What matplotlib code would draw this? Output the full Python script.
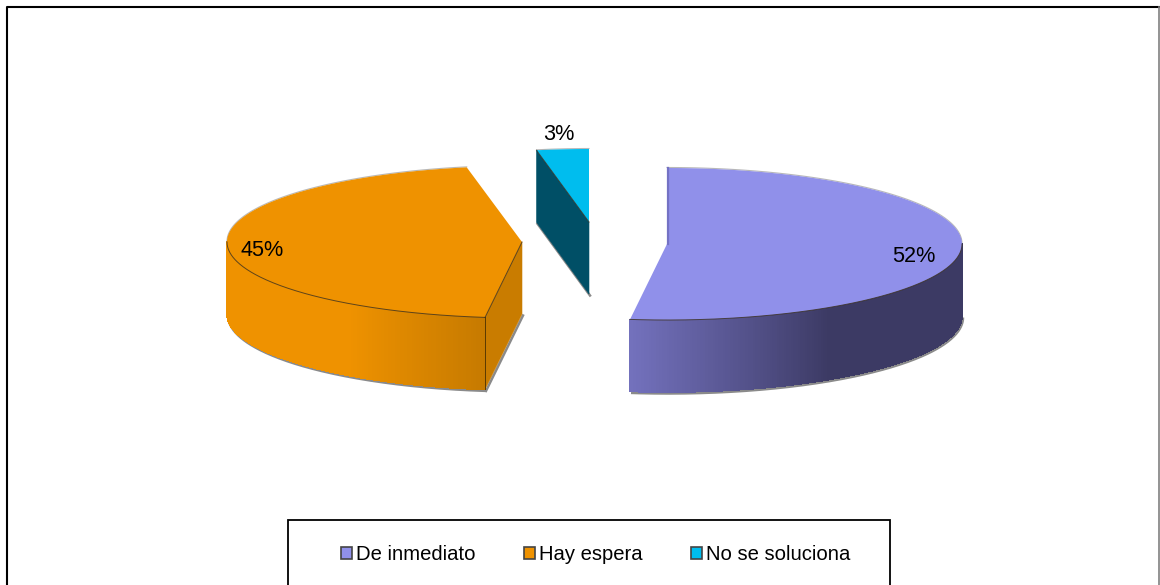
import numpy as np
import matplotlib
matplotlib.use("Agg")
import matplotlib.pyplot as plt
from matplotlib.colors import to_rgb
from matplotlib.patches import Polygon, Rectangle, Patch

plt.rcParams['font.family'] = ['Liberation Sans', 'DejaVu Sans']

categories = ["De inmediato", "Hay espera", "No se soluciona"]
values = [52, 45, 3]
labels = ["52%", "45%", "3%"]

top_colors = ["#9090ea", "#ef9200", "#00bdee"]
inner_colors = [None, "#c97c00", "#004f66"]
# side shading stops: (angle in degrees, colour)
side_stops = [
    [(90, "#3c3a64"), (147, "#3c3a64"), (187.2, "#7371bd")],
    [(187.2, "#c67a00"), (216, "#ef9200"), (270, "#ef9200")],
    [(349, "#004f66"), (360, "#004f66")],
]
# pie geometry in figure pixels, per slice (centre x, centre y, rx, ry)
geom = [(667, 244, 295, 76), (522, 242, 295, 76), (589, 222, 280, 73)]
depth = 72
label_pos = [(914, 257), (262, 250), (559, 134)]

fig = plt.figure(figsize=(11.6, 5.85), dpi=100)
ax = fig.add_axes([0, 0, 1, 1])
ax.set_xlim(0, 1160)
ax.set_ylim(585, 0)
ax.axis('off')

# chart frame: black on three sides, grey on the right
ax.plot([6.5, 6.5, 1159], [600, 6.5, 6.5], color='black', lw=1.5, zorder=1)
ax.plot([1159, 1159], [6.5, 600], color='#808080', lw=1.2, zorder=1)


def pt(g, a):
    r = np.radians(a)
    return g[0] + g[2] * np.sin(r), g[1] - g[3] * np.cos(r)


def stop_color(stops, a):
    angs = [s[0] for s in stops]
    cols = np.array([to_rgb(s[1]) for s in stops])
    return tuple(np.interp(a, angs, cols[:, i]) for i in range(3))


edges = np.concatenate([[0], np.cumsum(values) / np.sum(values) * 360])
for i in [2, 1, 0]:
    g, a0, a1 = geom[i], edges[i], edges[i + 1]
    angs = np.linspace(a0, a1, 200)
    ax_, ay_ = pt(g, angs)

    # outer side wall, visible on the front half
    f0, f1 = max(a0, 90), min(a1, 270)
    if f1 > f0:
        fa = np.linspace(f0, f1, int((f1 - f0) * 2) + 2)
        fx, fy = pt(g, fa)
        # grey fringe below the wall
        ax.plot(fx + 1, fy + depth + 1.5, color='#8a8a8a', lw=1.8, zorder=2 + i * 0.01,
                solid_capstyle='butt')
        for j in range(len(fa) - 1):
            c = stop_color(side_stops[i], (fa[j] + fa[j + 1]) / 2)
            ax.add_patch(Polygon([(fx[j], fy[j]), (fx[j + 1], fy[j + 1]),
                                  (fx[j + 1], fy[j + 1] + depth), (fx[j], fy[j] + depth)],
                                 closed=True, fc=c, ec=c, lw=0.5, antialiased=False, zorder=3))

    # inner cut wall
    if inner_colors[i]:
        px, py = pt(g, a0)
        quad = [(g[0], g[1]), (px, py), (px, py + depth), (g[0], g[1] + depth)]
        ax.plot([px + 1, g[0] + 1], [py + depth + 1.5, g[1] + depth + 1.5],
                color='#8a8a8a', lw=1.8, zorder=2)
        ax.add_patch(Polygon(quad, closed=True, fc=inner_colors[i], ec=inner_colors[i],
                             lw=0.4, zorder=3.5))
        ax.plot([px, px], [py, py + depth], color='#5a3a00' if i == 1 else inner_colors[i],
                lw=0.7, zorder=3.6)

    # top face
    top = [(g[0], g[1])] + list(zip(ax_, ay_))
    ax.add_patch(Polygon(top, closed=True, fc=top_colors[i], ec='none', zorder=4))
    # thin edge between top and walls
    if f1 > f0:
        ex, ey = pt(g, np.linspace(f0, f1, 200))
        ax.plot(ex, ey, color='#3a3020', lw=0.7, alpha=0.8, zorder=4.5)
    if inner_colors[i]:
        px, py = pt(g, a0)
        ax.plot([px, g[0]], [py, g[1]], color='#3a3020', lw=0.7, alpha=0.8, zorder=4.5)
    # darker line at the purple slice's upright edge
    if i == 0:
        px, py = pt(g, a0)
        ax.plot([px + 0.5, g[0] + 0.5], [py, g[1]], color='#7472c4', lw=1.6, zorder=4.5)
    # grey back rim
    back = np.linspace(a0, a1, 200)
    back = back[(back < 90) | (back > 270)]
    if len(back):
        bx, by = pt(g, back)
        ax.plot(bx, by - 0.5, color='#8a8a8a', lw=0.8, alpha=0.6, zorder=3.9)

    ax.text(*label_pos[i], labels[i], fontsize=15.6, color='black',
            ha='center', va='center', zorder=6)

# legend
ax.add_patch(Rectangle((287.5, 520), 602.5, 70, fc='white', ec='black', lw=1.3, zorder=7))
handles = [Patch(fc=c, ec='#444444', lw=1.2) for c in top_colors]
leg = ax.legend(handles, categories, ncols=3, frameon=False, loc='center',
                bbox_to_anchor=(595.5, 554.5), bbox_transform=ax.transData,
                fontsize=14.6, handlelength=0.54, handleheight=0.54,
                handletextpad=0.2, columnspacing=2.4, borderpad=0, borderaxespad=0)
leg.set_zorder(8)

fig.savefig("out.png", dpi=100, facecolor='white')
